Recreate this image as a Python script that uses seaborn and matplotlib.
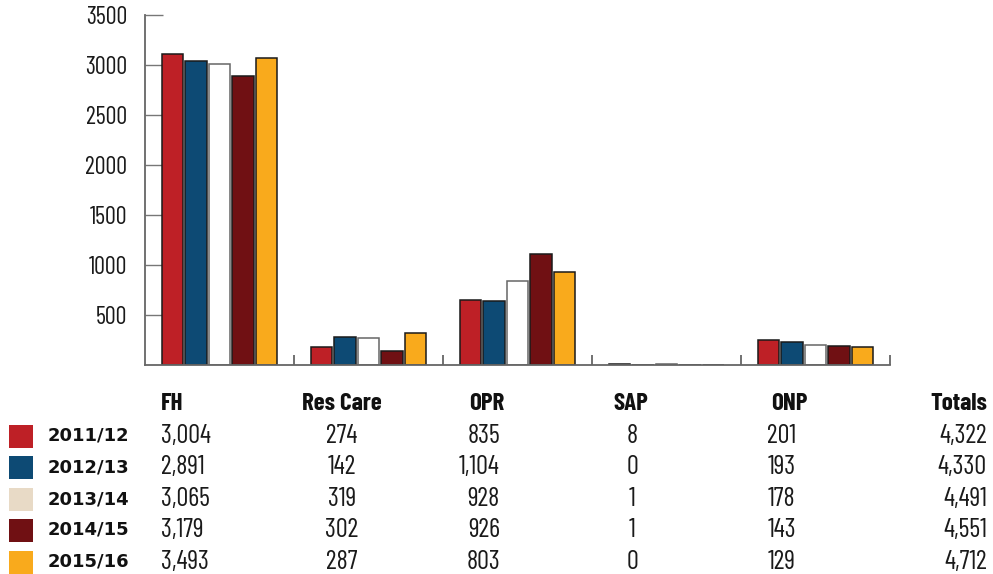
import numpy as np
import pandas as pd
import seaborn as sns
import matplotlib.pyplot as plt
from matplotlib.patches import Rectangle

categories = ["FH", "Res Care", "OPR", "SAP", "ONP"]
years = ["2011/12", "2012/13", "2013/14", "2014/15", "2015/16"]

# bar heights as drawn in the chart
bar_values = {
    "2011/12": [3107, 177, 647, 10, 247],
    "2012/13": [3037, 283, 640, 3, 233],
    "2013/14": [3007, 273, 837, 10, 203],
    "2014/15": [2890, 140, 1107, 1, 193],
    "2015/16": [3067, 320, 930, 3, 180],
}

# table below the chart
table_headers = ["FH", "Res Care", "OPR", "SAP", "ONP", "Totals"]
table_rows = {
    "2011/12": ["3,004", "274", "835", "8", "201", "4,322"],
    "2012/13": ["2,891", "142", "1,104", "0", "193", "4,330"],
    "2013/14": ["3,065", "319", "928", "1", "178", "4,491"],
    "2014/15": ["3,179", "302", "926", "1", "143", "4,551"],
    "2015/16": ["3,493", "287", "803", "0", "129", "4,712"],
}

bar_colors = ["#BE2026", "#0D4A74", "#FFFFFF", "#701013", "#F9AA1C"]
legend_colors = ["#BE2026", "#0D4A74", "#E8DAC6", "#701013", "#F9AA1C"]

sns.set_style("white")
cond = ["Barlow Condensed", "DejaVu Sans"]
wide = ["DejaVu Sans"]
plt.rcParams["font.family"] = cond

rows = []
for y in years:
    for c, v in zip(categories, bar_values[y]):
        rows.append({"category": c, "year": y, "value": v})
df = pd.DataFrame(rows)

fig = plt.figure(figsize=(9.93, 5.74), dpi=100)
ax = fig.add_axes([145 / 993, 1 - 365 / 574, 745 / 993, 350 / 574])

sns.barplot(data=df, x="category", y="value", hue="year", order=categories,
            hue_order=years, palette=bar_colors, saturation=1, width=0.785,
            gap=0.08, edgecolor="#1a1a1a", linewidth=1.1, legend=False, ax=ax)

for p in ax.patches:
    if p.get_facecolor()[:3] == (1.0, 1.0, 1.0):
        p.set_edgecolor("#666666")

ax.set_xlim(-0.5, 4.5)
ax.set_ylim(0, 3500)
ax.set_xlabel("")
ax.set_ylabel("")
ax.set_xticks([0.5, 1.5, 2.5, 3.5, 4.5])
ax.set_xticklabels([])
ax.tick_params(axis="x", bottom=True, direction="in", length=7, width=1.3,
               colors="#666666")
ax.set_yticks([500, 1000, 1500, 2000, 2500, 3000, 3500])
ax.tick_params(axis="y", left=True, direction="in", length=13, width=1.0,
               colors="#777777", labelcolor="#1a1a1a", labelsize=17.5, pad=13)
for s in ["top", "right"]:
    ax.spines[s].set_visible(False)
for s in ["left", "bottom"]:
    ax.spines[s].set_color("#666666")
    ax.spines[s].set_linewidth(1.3)

# table
W, H = 993, 574
col_x = [161, 342, 500, 632, 782, 987]
col_ha = ["left", "center", "right", "center", "center", "right"]
hdr_x = [161, 342, 487, 631, 789, 987]
hdr_ha = ["left", "center", "center", "center", "center", "right"]
for t, x, ha in zip(table_headers, hdr_x, hdr_ha):
    fig.text(x / W, 1 - 404 / H, t, ha=ha, va="center", fontsize=18,
             fontweight="bold", color="#111111", family=cond)
row_y = [436, 467, 499, 530, 562]
for i, y in enumerate(years):
    yy = 1 - row_y[i] / H
    fig.patches.append(Rectangle((9 / W, yy - 11.5 / H), 24 / W, 23 / H,
                                 transform=fig.transFigure,
                                 facecolor=legend_colors[i], edgecolor="none"))
    fig.text(48 / W, yy, y, ha="left", va="center", fontsize=13,
             fontweight="bold", color="#111111", family=wide)
    for val, x, ha in zip(table_rows[y], col_x, col_ha):
        fig.text(x / W, yy, val, ha=ha, va="center", fontsize=19,
                 color="#1a1a1a", family=cond)

fig.savefig("out.png", dpi=100)
